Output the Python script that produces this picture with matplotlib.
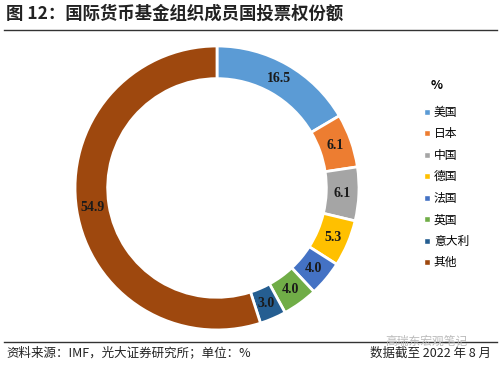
import numpy as np
import matplotlib.pyplot as plt
from matplotlib.lines import Line2D

plt.rcParams['font.family'] = ['Noto Sans CJK SC', 'DejaVu Sans']

countries = ['美国', '日本', '中国', '德国', '法国', '英国', '意大利', '其他']
shares = [16.5, 6.1, 6.1, 5.3, 4.0, 4.0, 3.0, 54.9]
colors = ['#5B9BD5', '#ED7D31', '#A5A5A5', '#FFC000', '#4472C4', '#70AD47', '#255E91', '#9E480E']

fig = plt.figure(figsize=(5, 3.65), dpi=100)

# donut
ax = fig.add_axes([0.15, 0.096, 0.568, 0.778])
wedges, _ = ax.pie(shares, colors=colors, startangle=90, counterclock=False,
                   radius=1.0, wedgeprops=dict(width=0.23, edgecolor='white', linewidth=2))
ax.set_xlim(-1, 1)
ax.set_ylim(-1, 1)
ax.set_aspect('equal')

total = sum(shares)
ang = 90.0
for v in shares:
    mid = ang - v / total * 360 / 2
    r = 0.885
    x = r * np.cos(np.radians(mid))
    y = r * np.sin(np.radians(mid))
    ax.text(x, y, f'{v:.1f}', ha='center', va='center', fontsize=10,
            family='Liberation Serif', fontweight='bold', color='#1a1a1a')
    ang -= v / total * 360

# legend
handles = [Line2D([0], [0], marker='s', color='w', markerfacecolor=c, markersize=4)
           for c in colors]
fig.legend(handles, countries, loc='upper left', bbox_to_anchor=(0.837, 0.723),
           frameon=False, fontsize=8.5, handlelength=0.6, handletextpad=0.3,
           labelspacing=0.72, borderaxespad=0)
fig.text(0.874, 0.767, '%', fontsize=9, fontweight='bold', ha='center', va='center')

# title and rules
fig.text(0.012, 0.962, '图 12：国际货币基金组织成员国投票权份额', fontsize=12.5,
         fontweight='bold', va='center', ha='left', color='#222222')
fig.add_artist(Line2D([0.008, 0.994], [0.918, 0.918], color='#333333', linewidth=1))
fig.add_artist(Line2D([0.008, 0.994], [0.063, 0.063], color='#333333', linewidth=1))
fig.text(0.77, 0.066, '高瑞东宏观笔记', fontsize=8.5, color='#bbbbbb', va='center', ha='left')
fig.text(0.012, 0.033, '资料来源：IMF，光大证券研究所；单位：%', fontsize=9,
         va='center', ha='left', color='#222222')
fig.text(0.982, 0.033, '数据截至 2022 年 8 月', fontsize=9,
         va='center', ha='right', color='#222222')

fig.savefig('out.png', dpi=100)
